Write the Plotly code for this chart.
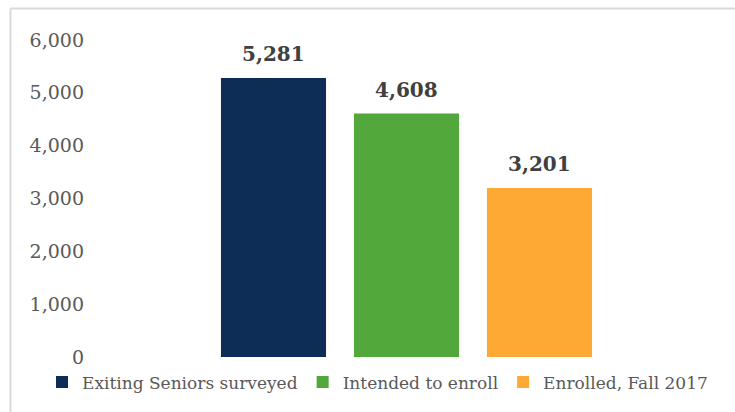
import plotly.graph_objects as go

series_names = ["Exiting Seniors surveyed", "Intended to enroll", "Enrolled, Fall 2017"]
values = [5281, 4608, 3201]
colors = ["#0E2D56", "#52A83A", "#FDA933"]
y_ticks = [0, 1000, 2000, 3000, 4000, 5000, 6000]

FONT = "DejaVu Serif"

fig = go.Figure()
for name, val, col in zip(series_names, values, colors):
    fig.add_trace(go.Bar(
        x=[name], y=[val], name=name,
        marker=dict(color=col, line=dict(width=0)),
        hoverinfo="name+y",
    ))
    fig.add_annotation(
        x=name, y=val, xref="x", yref="y", text="<b>{:,}</b>".format(val),
        showarrow=False, yanchor="bottom", yshift=10,
        font=dict(family=FONT, size=20, color="#404040"),
    )

L, R, T, B = 93, 15, 40, 54.5
W = 735 - L - R
H = 412 - T - B

fig.update_layout(
    width=735, height=412,
    margin=dict(l=L, r=R, t=T, b=B, pad=0),
    paper_bgcolor="white", plot_bgcolor="white",
    barmode="overlay", bargap=0.21,
    font=dict(family=FONT, color="#595959"),
    showlegend=True,
    legend=dict(orientation="h", x=(42 - L) / W, xanchor="left", y=-25.5 / H, yanchor="middle",
                font=dict(family=FONT, size=17, color="#595959"), itemwidth=30,
                traceorder="normal"),
    xaxis=dict(type="category", range=[-1.357, 3.357], showgrid=False, zeroline=False,
               showline=False, showticklabels=False, fixedrange=True),
    yaxis=dict(range=[0, 6000], tickvals=y_ticks, tickformat=",", showgrid=False,
               zeroline=False, showline=False, ticks="",
               tickfont=dict(family=FONT, size=19, color="#595959"),
               ticklabelstandoff=8),
    shapes=[
        dict(type="line", xref="paper", yref="paper",
             x0=(10.5 - L) / W, x1=(10.5 - L) / W, y0=-0.3, y1=1 + (T - 8.5) / H,
             line=dict(color="#D9D9D9", width=2)),
        dict(type="line", xref="paper", yref="paper",
             x0=(10.5 - L) / W, x1=1.1, y0=1 + (T - 8.5) / H, y1=1 + (T - 8.5) / H,
             line=dict(color="#D9D9D9", width=2)),
    ],
)

fig.write_html("out.html")
